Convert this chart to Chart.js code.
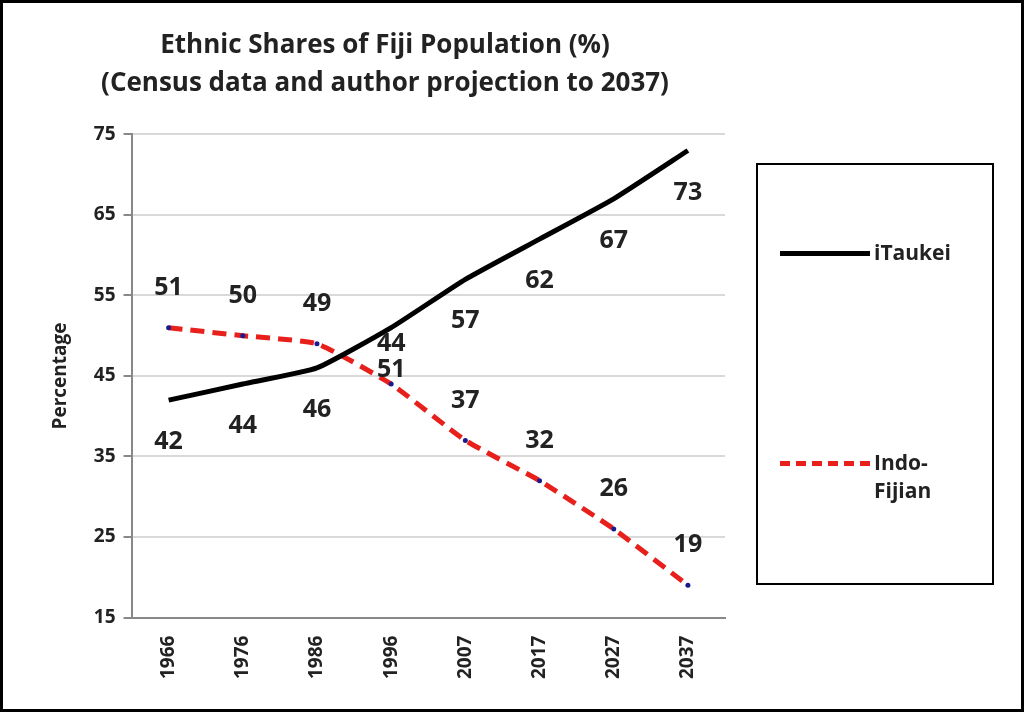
<!DOCTYPE html>
<html><head><meta charset="utf-8">
<script src="https://cdn.jsdelivr.net/npm/chart.js@4"></script>
<style>
  html,body{margin:0;padding:0;background:#fff;}
  #wrap{position:relative;width:1018px;height:706px;border:3px solid #000;}
  #legend{position:absolute;left:753px;top:160px;width:234px;height:418px;border:2px solid #000;
    font:bold 21px "Open Sans",sans-serif;color:#222;}
  .item{position:absolute;left:22px;display:flex;align-items:flex-start;}
  .sw{width:90px;height:0;margin-top:13px;margin-right:4px;}
</style></head>
<body>
<div id="wrap">
  <canvas id="c" width="1018" height="706"></canvas>
  <div id="legend">
    <div class="item" style="top:73px"><div class="sw" style="border-top:5px solid #000"></div>iTaukei</div>
    <div class="item" style="top:283px"><div class="sw" style="border-top:5px dashed #e8201c"></div>Indo-<br>Fijian</div>
  </div>
</div>
<script>
/* ── Data ── */
const YEARS     = ['1966', '1976', '1986', '1996', '2007', '2017', '2027', '2037'];
const ITAUKEI   = [42, 44, 46, 51, 57, 62, 67, 73];
const INDO      = [51, 50, 49, 44, 37, 32, 26, 19];

/* ── Value labels: iTaukei below, Indo-Fijian above ── */
const valueLabels = {
  id: 'valueLabels',
  afterDatasetsDraw(chart) {
    const { ctx } = chart;
    const offsets = [42, -40];
    chart.data.datasets.forEach((ds, d) => {
      chart.getDatasetMeta(d).data.forEach((pt, i) => {
        ctx.save();
        ctx.textAlign = 'center';
        ctx.textBaseline = 'middle';
        ctx.fillStyle = '#222';
        ctx.font = 'bold 25px "Open Sans", sans-serif';
        ctx.fillText(ds.data[i], pt.x, pt.y + offsets[d]);
        ctx.restore();
      });
    });
  },
};

new Chart(document.getElementById('c'), {
  type: 'line',
  plugins: [valueLabels],
  data: {
    labels: YEARS,
    datasets: [
      { label: 'iTaukei', data: ITAUKEI, borderColor: '#000', borderWidth: 5,
        pointRadius: 0, tension: 0.15 },
      { label: 'Indo-Fijian', data: INDO, borderColor: '#e8201c', borderWidth: 5,
        borderDash: [14, 8], pointRadius: 2.5, pointBackgroundColor: '#1a1a8c',
        pointBorderWidth: 0, tension: 0.15 },
    ],
  },
  options: {
    responsive: false,
    animation: false,
    layout: { padding: { left: 42, right: 296, top: 0, bottom: 20 } },
    plugins: {
      legend: { display: false },
      title: {
        display: true,
        text: ['Ethnic Shares of Fiji Population (%)', '(Census data and author projection to 2037)'],
        color: '#222',
        font: { family: '"Open Sans", sans-serif', size: 26, weight: 'bold', lineHeight: 1.45 },
        padding: { top: 24, bottom: 32 },
        position: 'top',
        align: 'center',
      },
    },
    scales: {
      x: {
        offset: true,
        grid: { display: false, drawTicks: true },
        border: { color: '#888', width: 2 },
        ticks: { color: '#222', maxRotation: 90, minRotation: 90, padding: 10,
          font: { family: '"Open Sans", sans-serif', size: 19, weight: 'bold' } },
      },
      y: {
        min: 15, max: 75,
        grid: { color: '#d9d9d9', lineWidth: 2, drawTicks: true, tickColor: '#888' },
        border: { color: '#888', width: 2 },
        ticks: { stepSize: 10, color: '#222', padding: 8,
          font: { family: '"Open Sans", sans-serif', size: 19, weight: 'bold' } },
        title: { display: true, text: 'Percentage', color: '#222', padding: { bottom: 14 },
          font: { family: '"Open Sans", sans-serif', size: 19, weight: 'bold' } },
      },
    },
  },
});
</script>
</body></html>
